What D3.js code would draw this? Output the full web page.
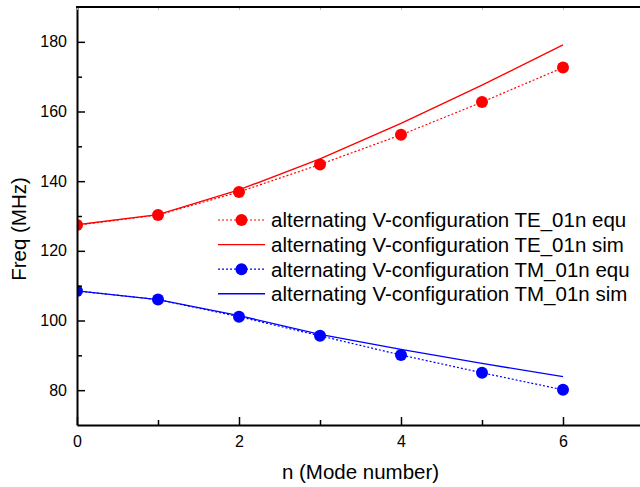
<!DOCTYPE html>
<html>
<head>
<meta charset="utf-8">
<script src="https://cdn.jsdelivr.net/npm/d3@7"></script>
<style>
  body { margin: 0; background: #fff; }
  svg { display: block; font-family: "Liberation Sans", Arial, sans-serif; }
</style>
</head>
<body>
<svg id="chart" width="640" height="487"></svg>
<script>
// mode numbers on the x axis
var modes = [0, 1, 2, 3, 4, 5, 6];

// frequencies (MHz)
var teEqu = [127.4, 130.3, 136.9, 144.8, 153.3, 162.7, 172.6];
var teSim = [127.5, 130.4, 137.5, 146.4, 156.6, 167.6, 179.1];
var tmEqu = [108.5, 106.0, 101.1, 95.6, 90.1, 85.0, 80.1];
var tmSim = [108.5, 106.0, 101.4, 96.0, 91.7, 87.7, 83.9];

var xTicks = [0, 2, 4, 6];
var xMinor = [1, 3, 5];
var yTicks = [80, 100, 120, 140, 160, 180];
var yMinor = [90, 110, 130, 150, 170];

var legendLabels = [
  "alternating V-configuration TE_01n equ",
  "alternating V-configuration TE_01n sim",
  "alternating V-configuration TM_01n equ",
  "alternating V-configuration TM_01n sim"
];

var svg = d3.select("#chart");
// plot box (window.top is reserved, so use own names)
var pLeft = 77, pRight = 644, pTop = 7, pBottom = 425;

var x = d3.scaleLinear().domain([0, 7]).range([pLeft, pRight]);
var y = d3.scaleLinear().domain([70, 190]).range([pBottom, pTop]);

// clip so the n=0 markers get cut by the left axis
svg.append("defs").append("clipPath").attr("id", "plotclip")
   .append("rect")
   .attr("x", pLeft).attr("y", pTop)
   .attr("width", pRight - pLeft).attr("height", pBottom - pTop);

var plot = svg.append("g").attr("clip-path", "url(#plotclip)");

var series = [
  {vals: teEqu, color: "#ff0000", dotted: true},
  {vals: teSim, color: "#ff0000", dotted: false},
  {vals: tmEqu, color: "#0000ff", dotted: true},
  {vals: tmSim, color: "#0000ff", dotted: false}
];

var line = d3.line()
  .x(function(d) { return x(d.n); })
  .y(function(d) { return y(d.v); });

series.forEach(function(s) {
  var pts = modes.map(function(n, i) { return {n: n, v: s.vals[i]}; });
  plot.append("path")
      .datum(pts)
      .attr("d", line)
      .attr("fill", "none")
      .attr("stroke", s.color)
      .attr("stroke-width", s.dotted ? 1.2 : 1.4)
      .attr("stroke-dasharray", s.dotted ? "2,2" : null);
  if (s.dotted) {
    plot.selectAll(null)
        .data(pts)
        .enter().append("circle")
        .attr("cx", function(d) { return x(d.n); })
        .attr("cy", function(d) { return y(d.v); })
        .attr("r", 6)
        .attr("fill", s.color);
  }
});

// axes
svg.append("g")
  .attr("class", "axis")
  .attr("transform", "translate(0," + pBottom + ")")
  .call(d3.axisBottom(x).tickValues(xTicks).tickFormat(d3.format("d"))
        .tickSizeInner(-8).tickSizeOuter(0).tickPadding(11));
svg.append("g")
  .attr("class", "axis")
  .attr("transform", "translate(0," + pBottom + ")")
  .call(d3.axisBottom(x).tickValues(xMinor).tickFormat("")
        .tickSizeInner(-5).tickSizeOuter(0))
  .select(".domain").remove();

svg.append("g")
  .attr("class", "axis")
  .attr("transform", "translate(" + pLeft + ",0)")
  .call(d3.axisLeft(y).tickValues(yTicks).tickFormat(d3.format("d"))
        .tickSizeInner(-8).tickSizeOuter(0).tickPadding(10));
svg.append("g")
  .attr("class", "axis")
  .attr("transform", "translate(" + pLeft + ",0)")
  .call(d3.axisLeft(y).tickValues(yMinor).tickFormat("")
        .tickSizeInner(-5).tickSizeOuter(0))
  .select(".domain").remove();

svg.selectAll(".axis")
   .attr("font-size", 16)
   .attr("font-family", "Liberation Sans, Arial, sans-serif");
svg.selectAll(".axis .domain").attr("stroke-width", 2).attr("stroke", "#000");
svg.selectAll(".axis .tick line").attr("stroke-width", 1.5);
svg.selectAll(".axis .tick text").attr("fill", "#000");

// faint ticks on the top frame
svg.append("g")
  .attr("transform", "translate(0," + pTop + ")")
  .call(d3.axisTop(x).tickValues(modes).tickFormat("")
        .tickSizeInner(-3).tickSizeOuter(0))
  .call(function(g) {
    g.select(".domain").remove();
    g.selectAll(".tick line").attr("stroke", "#bbb");
  });

// top frame line
svg.append("line")
  .attr("x1", pLeft - 1).attr("x2", 640)
  .attr("y1", pTop).attr("y2", pTop)
  .attr("stroke", "#000").attr("stroke-width", 2);

// axis titles
svg.append("text")
  .attr("x", (pLeft + pRight) / 2).attr("y", 479)
  .attr("text-anchor", "middle")
  .attr("font-size", 20.5)
  .text("n (Mode number)");

svg.append("text")
  .attr("transform", "translate(26,229) rotate(-90)")
  .attr("text-anchor", "middle")
  .attr("font-size", 20.5)
  .text("Freq (MHz)");

// legend
var legend = svg.append("g");
legendLabels.forEach(function(lbl, i) {
  var s = series[i];
  var cy = 220 + i * 24.6;
  legend.append("line")
    .attr("x1", 218).attr("x2", 265)
    .attr("y1", cy).attr("y2", cy)
    .attr("stroke", s.color)
    .attr("stroke-width", s.dotted ? 1.2 : 1.4)
    .attr("stroke-dasharray", s.dotted ? "2,2" : null);
  if (s.dotted) {
    legend.append("circle")
      .attr("cx", 241.5).attr("cy", cy).attr("r", 6)
      .attr("fill", s.color);
  }
  legend.append("text")
    .attr("x", 271).attr("y", cy).attr("dy", "0.36em")
    .attr("font-size", 20.5)
    .text(lbl);
});
</script>
</body>
</html>
